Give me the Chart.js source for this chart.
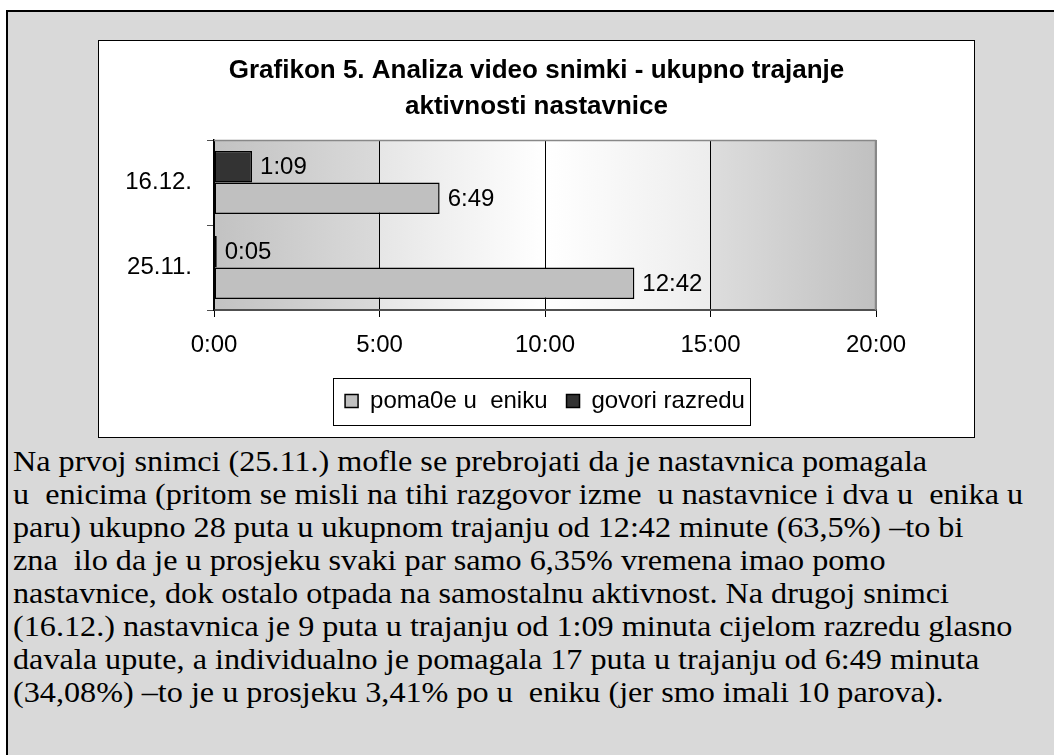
<!DOCTYPE html>
<html>
<head>
<meta charset="utf-8">
<script src="https://cdn.jsdelivr.net/npm/chart.js@4"></script>
<style>
  html, body { margin: 0; padding: 0; background: #fff; width: 1054px; height: 755px; overflow: hidden; }
  #ramka { position: absolute; left: 6px; top: 10px; width: 1100px; height: 800px;
           border: 2px solid #000; background: #d9d9d9; box-sizing: border-box; }
  #okvir { position: absolute; left: 98px; top: 40px; width: 877px; height: 398px;
           background: #fff; border: 1px solid #000; box-sizing: border-box; }
  #okvir canvas { display: block; }
  #tekst { position: absolute; left: 13px; top: 445px; font: 29px "Liberation Serif", "Times New Roman", serif;
           line-height: 33px; color: #000; white-space: pre; }
  #tekst div { transform: scaleX(1.11); transform-origin: 0 0; }
</style>
</head>
<body>
<div id="ramka"></div>
<div id="okvir"><canvas id="grafikon" width="875" height="396"></canvas></div>
<div id="tekst"></div>

<script>
// Grafikon 5 - ukupno trajanje aktivnosti nastavnice (vrijednosti u sekundama)
const kategorije       = ['16.12.', '25.11.'];
const pomazeUcenikuSek = [409, 762];   // 6:49, 12:42
const govoriRazreduSek = [69, 5];      // 1:09, 0:05
const osSekunde        = [0, 300, 600, 900, 1200];
const naslov           = ['Grafikon 5. Analiza video snimki - ukupno trajanje', 'aktivnosti nastavnice'];

const recenice = [
  'Na prvoj snimci (25.11.) mofle se prebrojati da je nastavnica pomagala',
  'u  enicima (pritom se misli na tihi razgovor izme  u nastavnice i dva u  enika u',
  'paru) ukupno 28 puta u ukupnom trajanju od 12:42 minute (63,5%) \u2013to bi',
  'zna  ilo da je u prosjeku svaki par samo 6,35% vremena imao pomo',
  'nastavnice, dok ostalo otpada na samostalnu aktivnost. Na drugoj snimci',
  '(16.12.) nastavnica je 9 puta u trajanju od 1:09 minuta cijelom razredu glasno',
  'davala upute, a individualno je pomagala 17 puta u trajanju od 6:49 minuta',
  '(34,08%) \u2013to je u prosjeku 3,41% po u  eniku (jer smo imali 10 parova).'
];
document.getElementById('tekst').innerHTML = recenice.map(r => `<div>${r}</div>`).join('');

const FONT = '"Liberation Sans", Arial, sans-serif';
Chart.defaults.font.family = FONT;
Chart.defaults.color = '#000';

// sekunde -> m:ss
function mmss(s) {
  return Math.floor(s / 60) + ':' + String(Math.round(s % 60)).padStart(2, '0');
}

// pozadina, okvir podrucja, vrijednosti uz stupce i okvir legende
const ukrasi = {
  id: 'ukrasi',
  beforeDraw(chart) {
    const { ctx, chartArea: a } = chart;
    const g = ctx.createLinearGradient(a.left, 0, a.right, 0);
    g.addColorStop(0, '#c2c2c2');
    g.addColorStop(0.249, '#dadada');
    g.addColorStop(0.251, '#e6e6e6');
    g.addColorStop(0.5, '#ffffff');
    g.addColorStop(0.749, '#ededed');
    g.addColorStop(0.751, '#dddddd');
    g.addColorStop(1, '#c0c0c0');
    ctx.save();
    ctx.fillStyle = g;
    ctx.fillRect(a.left, a.top, a.right - a.left, a.bottom - a.top);
    ctx.restore();
  },
  afterDatasetsDraw(chart) {
    const ctx = chart.ctx;
    ctx.save();
    ctx.font = '24px ' + FONT;
    ctx.fillStyle = '#000';
    ctx.textAlign = 'left';
    ctx.textBaseline = 'middle';
    chart.data.datasets.forEach((ds, i) => {
      chart.getDatasetMeta(i).data.forEach((bar, j) => {
        ctx.fillText(mmss(ds.data[j]), bar.x + 8, bar.y + 1);
      });
    });
    ctx.restore();
  },
  afterDraw(chart) {
    const { ctx, chartArea: a } = chart;
    ctx.save();
    ctx.strokeStyle = '#888';
    ctx.lineWidth = 1.5;
    ctx.beginPath();
    ctx.moveTo(a.left, a.top + 0.5);
    ctx.lineTo(a.right - 0.5, a.top + 0.5);
    ctx.lineTo(a.right - 0.5, a.bottom);
    ctx.stroke();

    // okvir oko legende
    const hb = chart.legend.legendHitBoxes;
    if (hb && hb.length) {
      const prvi = hb[0], zadnji = hb[hb.length - 1];
      const sred = prvi.top + prvi.height / 2;
      ctx.strokeStyle = '#000';
      ctx.lineWidth = 1;
      ctx.strokeRect(Math.round(prvi.left - 12) + 0.5, Math.round(sred - 23.5) + 0.5,
                     Math.round(zadnji.left + zadnji.width + 5 - prvi.left + 12), 47);
    }
    ctx.restore();
  }
};

new Chart(document.getElementById('grafikon'), {
  type: 'bar',
  data: {
    labels: kategorije,
    datasets: [
      { label: 'govori razredu', data: govoriRazreduSek, backgroundColor: '#333333',
        borderColor: '#000', borderWidth: 1.5, borderSkipped: false },
      { label: 'poma0e u  eniku', data: pomazeUcenikuSek, backgroundColor: '#c0c0c0',
        borderColor: '#000', borderWidth: 1.5, borderSkipped: false }
    ]
  },
  options: {
    indexAxis: 'y',
    responsive: false,
    animation: false,
    categoryPercentage: 0.74,
    barPercentage: 1,
    layout: { padding: { left: 0, right: 0, top: 0, bottom: 14 } },
    plugins: {
      title: {
        display: true, text: naslov, color: '#000',
        font: { size: 26, weight: 'bold', lineHeight: '36px' },
        padding: { top: 11.5, bottom: 15.5 }
      },
      legend: {
        position: 'bottom', fullSize: false, reverse: true,
        labels: { boxWidth: 13, boxHeight: 13, padding: 19, color: '#000', font: { size: 24 } }
      },
      tooltip: { enabled: false }
    },
    scales: {
      x: {
        min: 0, max: 1200,
        afterBuildTicks: (os) => { os.ticks = osSekunde.map(v => ({ value: v })); },
        afterFit: (os) => { os.height = 60; },
        ticks: { callback: (v) => mmss(v), color: '#000', font: { size: 24 }, padding: 14, maxRotation: 0 },
        grid: {
          color: (c) => (c.tick && c.tick.value === 1200) ? '#888' : '#000',
          tickColor: '#000', tickLength: 7, lineWidth: 1
        },
        border: { color: '#505050', width: 2 }
      },
      y: {
        afterFit: (os) => { os.width = 115; },
        ticks: { color: '#000', font: { size: 24 }, padding: 15 },
        grid: { offset: true, drawOnChartArea: false, tickLength: 7, tickColor: '#505050' },
        border: { color: '#000', width: 1.5 }
      },
      // prazan prostor desno od podrucja crtanja
      yDesno: {
        type: 'category', position: 'right',
        afterFit: (os) => { os.width = 98; },
        ticks: { display: false },
        grid: { display: false },
        border: { display: false }
      }
    }
  },
  plugins: [ukrasi]
});
</script>
</body>
</html>
